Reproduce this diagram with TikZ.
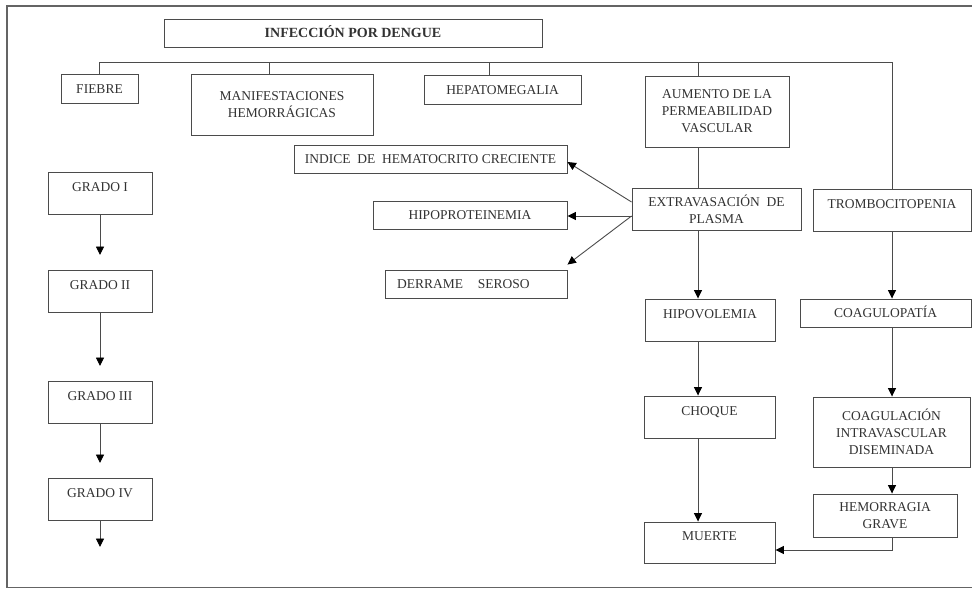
\documentclass[tikz,border=0pt]{standalone}
\usepackage{fontspec}
\setmainfont{Liberation Serif}
\usetikzlibrary{arrows.meta}
\definecolor{ink}{RGB}{50,50,50}
\definecolor{edge}{RGB}{75,75,75}
\definecolor{frame}{RGB}{100,100,100}
\begin{document}
\begin{tikzpicture}[x=1pt,y=-1pt,
  box/.style={draw=edge, line width=0.9pt, rectangle, inner sep=0pt, align=center,
    text=ink, font=\fontsize{13.5}{17}\selectfont},
  one/.style={text height=9pt, text depth=0pt},
  hi/.style={text height=9pt, text depth=12.4pt},
  sz/.style 2 args={minimum width=#1, minimum height=#2},
  conn/.style={draw=edge, line width=0.9pt},
  arr/.style={conn, -{Triangle[length=8.5pt,width=8pt,color=black,fill=black]}}
]
\useasboundingbox (0,0) rectangle (972,589);
% outer frame
\draw[frame, line width=1.2pt] (972,6) -- (7,6) -- (7,587.5) -- (972,587.5);

% top level
\node[box, one, sz={378pt}{28pt}, font=\bfseries\fontsize{14}{17}\selectfont] (title) at (353,33) {INFECCIÓN POR DENGUE};
\node[box, one, sz={77pt}{29pt}] (fiebre) at (99.5,88.5) {FIEBRE};
\node[box, sz={182pt}{61pt}] (manif) at (282,104.5) {MANIFESTACIONES\\HEMORRÁGICAS};
\node[box, one, sz={157pt}{29pt}] (hepato) at (502.5,89.5) {HEPATOMEGALIA};
\node[box, sz={144pt}{71pt}] (aumento) at (717,111.5) {AUMENTO DE LA\\PERMEABILIDAD\\VASCULAR};

% extravasation level
\node[box, one, sz={273pt}{28pt}] (indice) at (430.5,159) {INDICE\ \ DE\ \ HEMATOCRITO CRECIENTE};
\node[box, sz={169pt}{42pt}] (extra) at (716.5,209) {EXTRAVASACIÓN\ \ DE\\PLASMA};
\node[box, hi, sz={158pt}{42pt}] (trombo) at (892,210) {TROMBOCITOPENIA};
\node[box, one, sz={194pt}{28pt}] (hipo) at (470,215) {HIPOPROTEINEMIA};
\node[box, one, sz={182pt}{28pt}, align=left, text width=158pt, inner xsep=12pt] (derrame) at (476,284) {DERRAME\hspace{1.1em}SEROSO};

% lower chains
\node[box, hi, sz={130pt}{42pt}] (hipovol) at (710,320) {HIPOVOLEMIA};
\node[box, one, sz={171pt}{28pt}] (coagulop) at (885.5,313) {COAGULOPATÍA};
\node[box, hi, sz={131pt}{42pt}] (choque) at (709.5,417) {CHOQUE};
\node[box, sz={157pt}{70pt}] (coagint) at (891.5,432) {COAGULACIÓN\\INTRAVASCULAR\\DISEMINADA};
\node[box, sz={144pt}{43pt}] (hemorr) at (885,515.5) {HEMORRAGIA\\GRAVE};
\node[box, hi, sz={131pt}{41pt}] (muerte) at (709.5,542.5) {MUERTE};

% grades
\node[box, hi, sz={104pt}{42pt}] (g1) at (100,193) {GRADO I};
\node[box, hi, sz={104pt}{42pt}] (g2) at (100,291) {GRADO II};
\node[box, hi, sz={104pt}{42pt}] (g3) at (100,402) {GRADO III};
\node[box, hi, sz={104pt}{42pt}] (g4) at (100,499) {GRADO IV};

% helper coordinates
\coordinate (d2) at (269,62);
\coordinate (d3) at (489,62);
\coordinate (d4) at (698,62);
\coordinate (br) at (892,62);
\coordinate (t1) at (100,255);
\coordinate (t2) at (100,366);
\coordinate (t3) at (100,463);
\coordinate (t4) at (100,547);

% bus
\draw[conn] (fiebre.north) |- (br) -- (trombo.north);
\draw[conn] (manif.north -| d2) -- (d2);
\draw[conn] (hepato.north -| d3) -- (d3);
\draw[conn] (aumento.north -| d4) -- (d4);
\draw[conn] (aumento.south -| d4) -- (extra.north -| d4);

% extravasation arrows
\draw[arr] ([yshift=7pt]extra.west) -- ([yshift=-3pt]indice.east);
\draw[arr] ([yshift=-7pt]extra.west) -- ([yshift=-1pt]hipo.east);
\draw[arr] ([yshift=-7pt]extra.west) -- ([yshift=5pt]derrame.north east);

% vertical chains
\draw[arr] (extra.south -| d4) -- (hipovol.north -| d4);
\draw[arr] (hipovol.south -| d4) -- (choque.north -| d4);
\draw[arr] (choque.south -| d4) -- (muerte.north -| d4);
\draw[arr] (trombo.south) -- (coagulop.north -| br);
\draw[arr] (coagulop.south -| br) -- (coagint.north -| br);
\draw[arr] (coagint.south -| br) -- (hemorr.north -| br);
\draw[arr] (hemorr.south -| br) |- ([yshift=-7.5pt]muerte.east);

% grade arrows
\draw[arr] (g1.south) -- (t1);
\draw[arr] (g2.south) -- (t2);
\draw[arr] (g3.south) -- (t3);
\draw[arr] (g4.south) -- (t4);
\end{tikzpicture}
\end{document}
